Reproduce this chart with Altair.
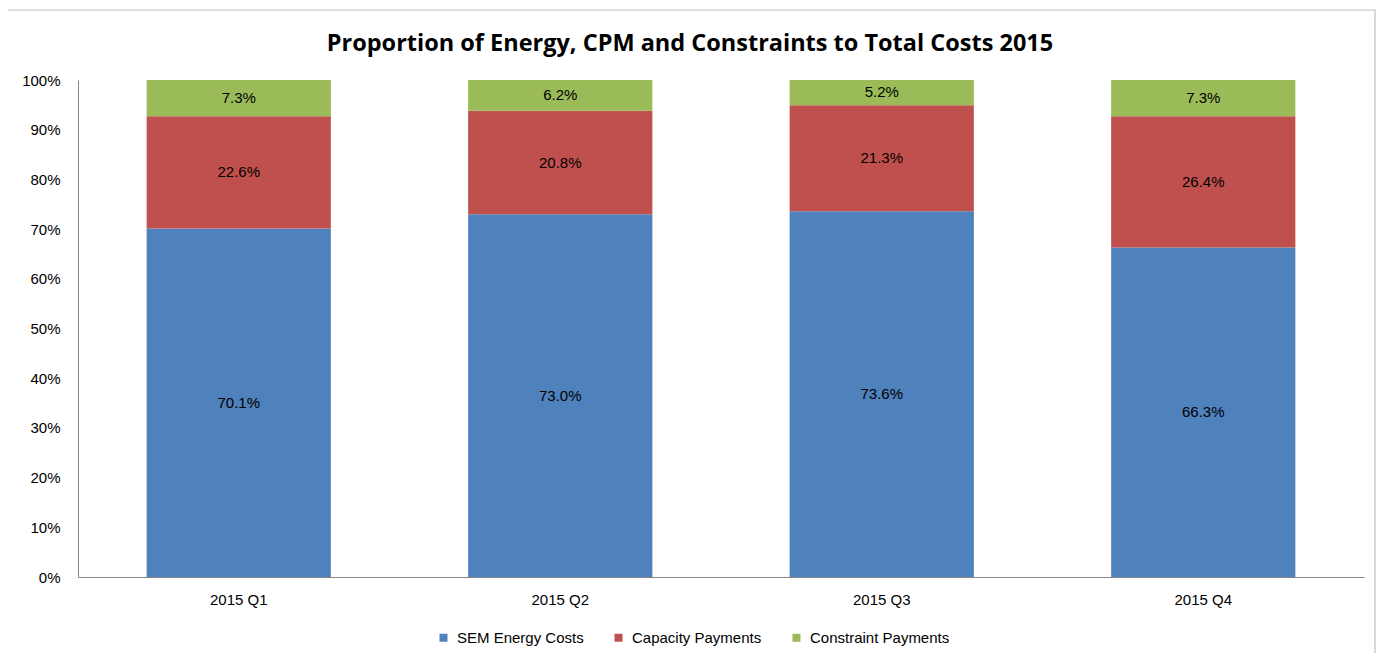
import altair as alt
import pandas as pd

quarters = ["2015 Q1", "2015 Q2", "2015 Q3", "2015 Q4"]
series = ["SEM Energy Costs", "Capacity Payments", "Constraint Payments"]
sem_energy = [70.1, 73.0, 73.6, 66.3]
capacity = [22.6, 20.8, 21.3, 26.4]
constraint = [7.3, 6.2, 5.2, 7.3]
colors = ["#4F81BD", "#C0504D", "#9BBB59"]

rows = []
for i, q in enumerate(quarters):
    for j, (s, vals) in enumerate(zip(series, [sem_energy, capacity, constraint])):
        rows.append({"quarter": q, "series": s, "value": vals[i], "order": j})
df = pd.DataFrame(rows)

W, H = 1286, 497
FONT = "Liberation Sans"

base = alt.Chart(df).transform_stack(
    stack="value", groupby=["quarter"], as_=["y0", "y1"],
    sort=[alt.SortField("order", order="ascending")]
).transform_calculate(
    mid="(datum.y0 + datum.y1) / 2",
    label="format(datum.value, '.1f') + '%'"
)

xenc = alt.X("quarter:N", sort=quarters,
             scale=alt.Scale(paddingInner=0.427, paddingOuter=0.2135),
             axis=alt.Axis(title=None, labelAngle=0, ticks=False, labelPadding=15,
                           domainColor="#868686", labelFont=FONT, labelFontSize=15,
                           labelColor="black"))
yscale = alt.Scale(domain=[0, 100], clamp=True)

bars = base.mark_bar().encode(
    x=xenc,
    y=alt.Y("y1:Q", scale=yscale,
            axis=alt.Axis(title=None, values=list(range(0, 101, 10)),
                          labelExpr="datum.value + '%'", ticks=False, grid=False,
                          labelPadding=18, domainColor="#868686", labelFont=FONT,
                          labelFontSize=15, labelColor="black")),
    y2="y0:Q",
    color=alt.Color("series:N", scale=alt.Scale(domain=series, range=colors),
                    legend=alt.Legend(title=None, orient="none", legendX=358, legendY=550,
                                      direction="horizontal", symbolType="square",
                                      symbolSize=64, symbolStrokeWidth=0,
                                      labelFont=FONT, labelFontSize=15, labelColor="black",
                                      columnPadding=27, labelOffset=6)),
)

labels = base.mark_text(font=FONT, fontSize=15, color="black").encode(
    x=alt.X("quarter:N", sort=quarters),
    y=alt.Y("mid:Q", scale=yscale),
    text="label:N",
)

border = alt.Chart(alt.Data(values=[{}])).mark_rect(
    fillOpacity=0, stroke="#BFBFBF", strokeWidth=1.2
).encode(
    x=alt.value(-73), x2=alt.value(1297), y=alt.value(-70), y2=alt.value(600)
)

chart = alt.layer(border, bars, labels).properties(
    width=W, height=H,
    autosize=alt.AutoSizeParams(type="none"),
    padding={"left": 70, "top": 72, "right": 12, "bottom": 76},
    title=alt.TitleParams(
        text="Proportion of Energy, CPM and Constraints to Total Costs 2015",
        font="Open Sans", fontSize=23.5, fontWeight="bold", color="black",
        anchor="middle", frame="group", dx=-31, offset=-46,
    ),
).configure_view(stroke=None).configure_axis(grid=False)

chart.save("out.html", embed_options={"renderer": "svg", "actions": False})
